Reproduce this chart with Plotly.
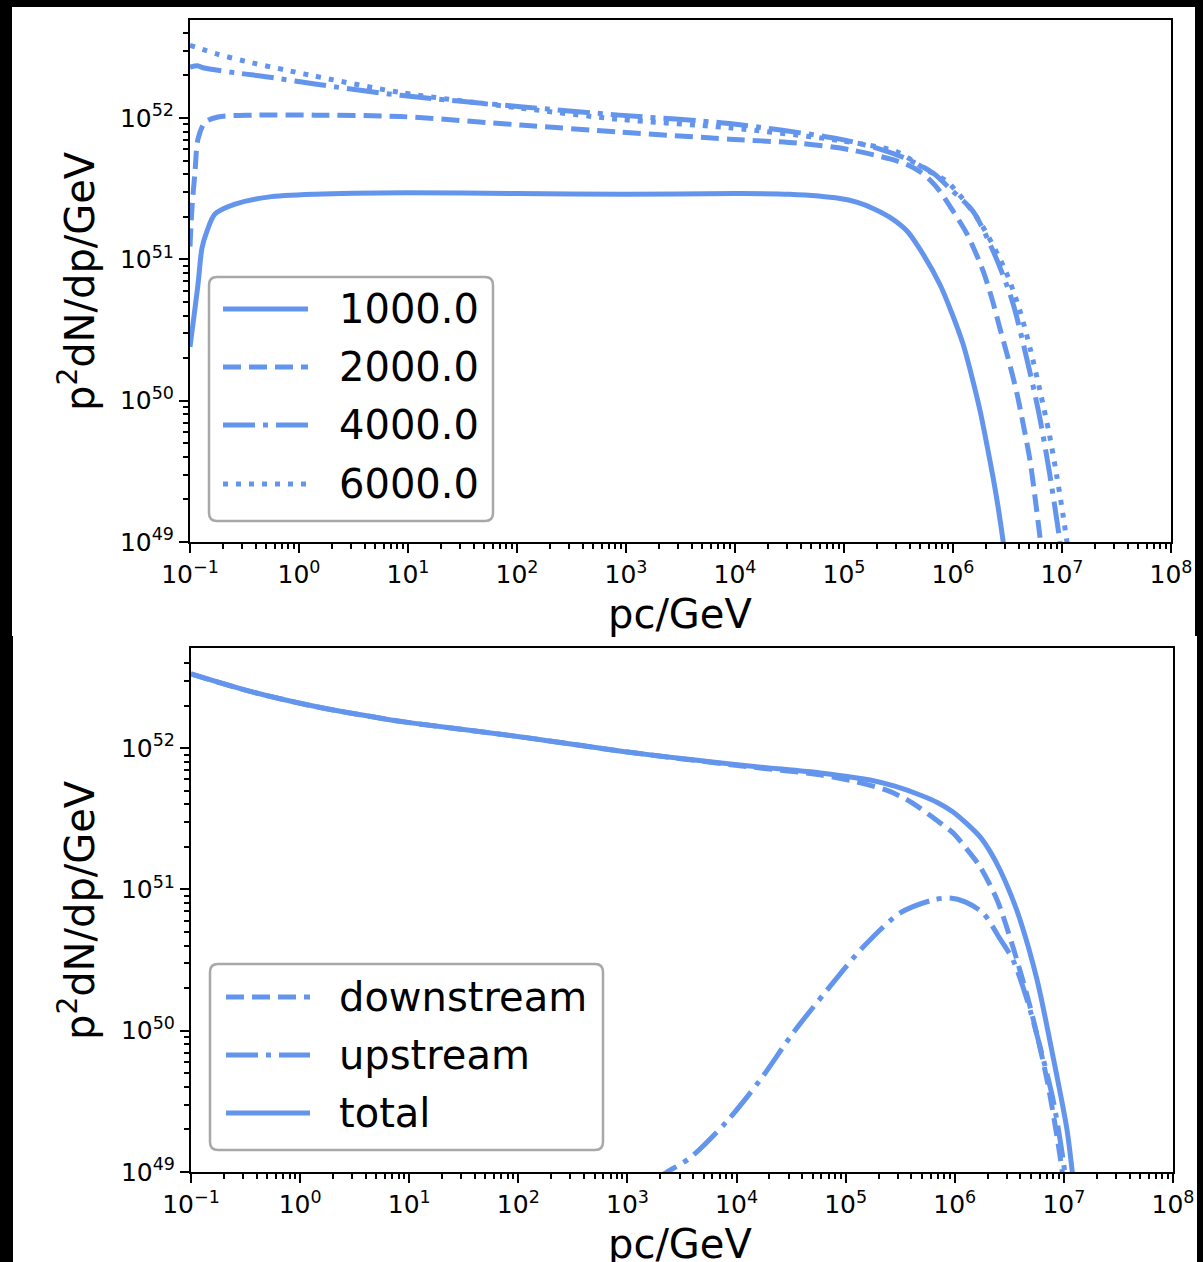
import plotly.graph_objects as go

W, H = 1203, 1262
FONT = "DejaVu Sans"
BLUE = "#6495ED"

# ---------------- upper panel: spectra at several ages ----------------
# values are log10(pc/GeV) and log10(p^2 dN/dp / GeV)
age_labels = ["1000.0", "2000.0", "4000.0", "6000.0"]

logp_1000 = [-1.0, -0.99, -0.927, -0.89, -0.844, -0.771, -0.587, -0.284, 0.147, 1.0, 2.0,
             3.0, 4.0, 4.5, 4.963, 5.116, 5.266, 5.422, 5.578, 5.728, 5.881, 5.988, 6.092,
             6.171, 6.248, 6.309, 6.367, 6.416, 6.459, 6.55]
logf_1000 = [50.38, 50.44, 50.82, 51.08, 51.20, 51.32, 51.39, 51.44, 51.46, 51.47, 51.465,
             51.46, 51.465, 51.46, 51.43, 51.404, 51.36, 51.296, 51.20, 51.033, 50.82, 50.622,
             50.40, 50.176, 49.93, 49.695, 49.46, 49.237, 49.01, 48.5]

logp_2000 = [-1.0, -0.982, -0.954, -0.927, -0.862, -0.743, -0.43, 0.147, 0.93, 2.03, 2.94,
             3.95, 4.6, 5.055, 5.422, 5.576, 5.697, 5.789, 5.881, 6.003, 6.128, 6.275, 6.355,
             6.431, 6.508, 6.587, 6.645, 6.706, 6.752, 6.798, 6.9]
logf_2000 = [51.09, 51.36, 51.62, 51.85, 51.97, 52.007, 52.02, 52.02, 52.01, 51.95, 51.90,
             51.85, 51.82, 51.775, 51.71, 51.671, 51.62, 51.561, 51.48, 51.338, 51.18, 50.92,
             50.727, 50.51, 50.294, 50.05, 49.83, 49.58, 49.319, 49.035, 48.4]

logp_4000 = [-1.0, -0.93, -0.88, -0.587, -0.284, 0.147, 0.93, 2.03, 2.94, 3.95, 4.963, 5.33,
             5.578, 5.817, 5.972, 6.183, 6.376, 6.544, 6.667, 6.783, 6.874, 6.957, 7.05]
logf_4000 = [52.36, 52.37, 52.355, 52.32, 52.29, 52.24, 52.16, 52.08, 52.02, 51.96, 51.85, 51.78,
             51.71, 51.61, 51.50, 51.34, 51.044, 50.704, 50.329, 49.93, 49.542, 49.132, 48.6]

logp_6000 = [-1.0, -0.743, -0.43, -0.128, 0.119, 0.93, 2.03, 2.94, 3.95, 4.96, 5.486, 5.761,
             5.945, 6.233, 6.477, 6.615, 6.713, 6.798, 6.883, 6.951, 7.012, 7.1]
logf_6000 = [52.514, 52.45, 52.39, 52.34, 52.30, 52.18, 52.07, 51.99, 51.93, 51.84, 51.76, 51.63,
             51.55, 51.28, 50.927, 50.634, 50.352, 50.07, 49.765, 49.472, 49.178, 48.7]

# ---------------- lower panel: downstream / upstream / total ----------------
comp_labels = ["downstream", "upstream", "total"]

logp_down = [-1.0, -0.44, 0.164, 0.778, 1.0, 2.01, 3.02, 4.03, 4.765, 5.1, 5.38, 5.55, 5.682,
             5.84, 5.984, 6.11, 6.232, 6.388, 6.534, 6.69, 6.846, 6.965, 7.1]
logf_down = [52.524, 52.397, 52.29, 52.206, 52.18, 52.08, 51.97, 51.875, 51.81, 51.76, 51.70,
             51.64, 51.575, 51.485, 51.40, 51.285, 51.16, 50.925, 50.59, 50.17, 49.65, 49.11, 48.3]

logp_up = [3.2, 3.363, 3.574, 3.913, 4.216, 4.518, 4.83, 5.16, 5.499, 5.8, 5.957, 6.1, 6.259,
           6.415, 6.534, 6.663, 6.782, 6.901, 6.993, 7.1]
logf_up = [48.92, 49.0, 49.10, 49.36, 49.651, 49.984, 50.288, 50.592, 50.833, 50.925, 50.939,
           50.91, 50.833, 50.65, 50.5, 50.217, 49.885, 49.51, 49.085, 48.4]

logp_tot = [-1.0, -0.44, 0.164, 0.778, 1.0, 2.01, 3.02, 4.03, 4.765, 5.0, 5.224, 5.45, 5.682,
            5.84, 5.984, 6.11, 6.232, 6.33, 6.415, 6.51, 6.599, 6.754, 6.901, 7.029, 7.075, 7.15]
logf_tot = [52.524, 52.397, 52.29, 52.206, 52.18, 52.08, 51.97, 51.88, 51.824, 51.80, 51.774,
            51.73, 51.668, 51.615, 51.548, 51.465, 51.371, 51.26, 51.137, 50.97, 50.783, 50.359,
            49.814, 49.297, 49.014, 48.5]

# axis ticks
x_decades = list(range(-1, 9))
y_decades = [49, 50, 51, 52]

DASH = {
    "solid": "solid",
    "dashed": "18px,8px",
    "dashdot": "32px,8px,5px,8px",
    "dotted": "5px,8px",
}


def pw(px):
    return px / W


def ph(py):
    return 1 - py / H


def sup_label(k):
    s = str(k).replace("-", "\u2212")
    return f"10<sup>{s}</sup>"


def pow10(values):
    return [10.0 ** v for v in values]


fig = go.Figure()

upper = [
    (logp_1000, logf_1000, "solid"),
    (logp_2000, logf_2000, "dashed"),
    (logp_4000, logf_4000, "dashdot"),
    (logp_6000, logf_6000, "dotted"),
]
for (lp, lf, style), name in zip(upper, age_labels):
    fig.add_trace(go.Scatter(
        x=pow10(lp), y=pow10(lf), mode="lines", name=name,
        line=dict(color=BLUE, width=5, dash=DASH[style], shape="spline", smoothing=0.8),
        xaxis="x", yaxis="y", showlegend=False,
    ))

lower = [
    (logp_down, logf_down, "dashed"),
    (logp_up, logf_up, "dashdot"),
    (logp_tot, logf_tot, "solid"),
]
for (lp, lf, style), name in zip(lower, comp_labels):
    fig.add_trace(go.Scatter(
        x=pow10(lp), y=pow10(lf), mode="lines", name=name,
        line=dict(color=BLUE, width=5, dash=DASH[style], shape="spline", smoothing=0.8),
        xaxis="x2", yaxis="y2", showlegend=False,
    ))

tickfont = dict(family=FONT, size=25, color="black")
x_minor = [m * 10.0 ** k for k in range(-1, 8) for m in range(2, 10)]
y_minor = [m * 10.0 ** k for k in range(49, 53) for m in range(2, 10)
           if m * 10.0 ** k < 10.0 ** 52.69]


def xaxis_cfg(domain, anchor):
    return dict(
        type="log", range=[-1, 8], domain=domain, anchor=anchor,
        tickvals=pow10(x_decades), ticktext=[sup_label(k) for k in x_decades],
        ticks="outside", ticklen=9, tickwidth=2, tickcolor="black",
        minor=dict(tickvals=x_minor, ticks="outside", ticklen=5, tickwidth=1.5,
                   tickcolor="black", showgrid=False),
        showline=True, mirror=True, linecolor="black", linewidth=2,
        showgrid=False, zeroline=False, tickfont=tickfont, automargin=False,
    )


def yaxis_cfg(domain, anchor, top):
    return dict(
        type="log", range=[49, top], domain=domain, anchor=anchor,
        tickvals=pow10(y_decades), ticktext=[sup_label(k) for k in y_decades],
        ticks="outside", ticklen=9, tickwidth=2, tickcolor="black",
        minor=dict(tickvals=y_minor, ticks="outside", ticklen=5, tickwidth=1.5,
                   tickcolor="black", showgrid=False),
        showline=True, mirror=True, linecolor="black", linewidth=2,
        showgrid=False, zeroline=False, tickfont=tickfont, automargin=False,
    )


fig.update_layout(
    width=W, height=H,
    margin=dict(l=0, r=0, t=0, b=0),
    paper_bgcolor="black", plot_bgcolor="white",
    xaxis=xaxis_cfg([pw(190), pw(1171)], "y"),
    yaxis=yaxis_cfg([ph(542), ph(20)], "x", 52.693),
    xaxis2=xaxis_cfg([pw(191), pw(1173)], "y2"),
    yaxis2=yaxis_cfg([ph(1172), ph(648)], "x2", 52.708),
    showlegend=False,
)

shapes = []
# white figure panels
shapes.append(dict(type="rect", xref="paper", yref="paper", x0=pw(12), x1=pw(1195),
                   y0=ph(636), y1=ph(7), fillcolor="white", line=dict(width=0), layer="below"))
shapes.append(dict(type="rect", xref="paper", yref="paper", x0=pw(13), x1=pw(1197),
                   y0=-0.01, y1=ph(636), fillcolor="white", line=dict(width=0), layer="below"))


def rounded_box(x0, y0, x1, y1, r=8):
    xa, xb = pw(x0), pw(x1)
    ya, yb = ph(y0), ph(y1)
    rx, ry = r / W, r / H
    return (f"M {xa + rx},{ya} L {xb - rx},{ya} Q {xb},{ya} {xb},{ya - ry} "
            f"L {xb},{yb + ry} Q {xb},{yb} {xb - rx},{yb} "
            f"L {xa + rx},{yb} Q {xa},{yb} {xa},{yb + ry} "
            f"L {xa},{ya - ry} Q {xa},{ya} {xa + rx},{ya} Z")


annotations = []


def legend(box, rows, x_line, x_text, entries):
    x0, y0, x1, y1 = box
    shapes.append(dict(type="path", xref="paper", yref="paper",
                       path=rounded_box(x0, y0, x1, y1),
                       fillcolor="rgba(255,255,255,0.8)", line=dict(color="#a8a8a8", width=2.5)))
    for yc, (label, style) in zip(rows, entries):
        shapes.append(dict(type="line", xref="paper", yref="paper",
                           x0=pw(x_line[0]), x1=pw(x_line[1]), y0=ph(yc), y1=ph(yc),
                           line=dict(color=BLUE, width=5, dash=DASH[style])))
        annotations.append(dict(text=label, xref="paper", yref="paper", x=pw(x_text), y=ph(yc),
                                xanchor="left", yanchor="middle", showarrow=False,
                                font=dict(family=FONT, size=40, color="black")))


legend((209, 277, 493, 521), [309, 367, 425, 484], (223, 308), 337,
       list(zip(age_labels, ["solid", "dashed", "dashdot", "dotted"])))
legend((210, 964, 603, 1150), [997, 1055, 1113], (226, 310), 337,
       list(zip(comp_labels, ["dashed", "dashdot", "solid"])))

# axis titles
for yc in (614, 1244):
    annotations.append(dict(text="pc/GeV", xref="paper", yref="paper", x=pw(680), y=ph(yc),
                            xanchor="center", yanchor="middle", showarrow=False,
                            font=dict(family=FONT, size=40, color="black")))
for yc in (281, 910):
    annotations.append(dict(text="p<sup>2</sup>dN/dp/GeV", xref="paper", yref="paper",
                            x=pw(77), y=ph(yc), xanchor="center", yanchor="middle",
                            textangle=-90, showarrow=False,
                            font=dict(family=FONT, size=40, color="black")))

fig.update_layout(shapes=shapes, annotations=annotations)

fig.write_html("out.html")
